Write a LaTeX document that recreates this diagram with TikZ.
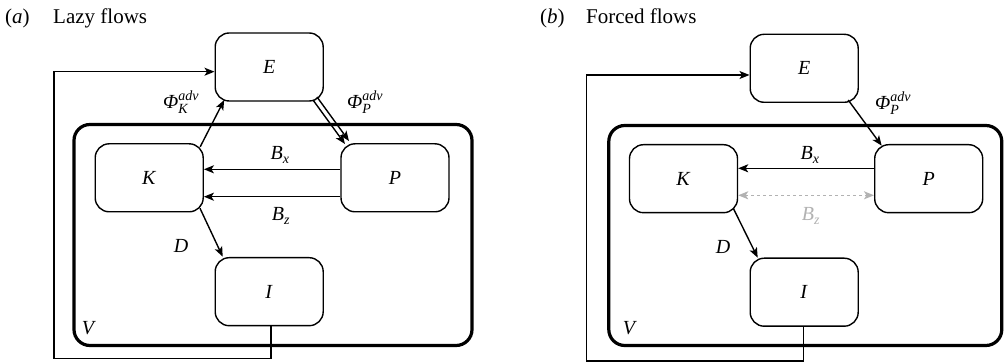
\documentclass[tikz,border=0pt]{standalone}
\usepackage{amsmath}
\usepackage{fontspec}
\setmainfont{Liberation Serif}
\usetikzlibrary{arrows.meta,calc}
\begin{document}
\begin{tikzpicture}[x=1pt,y=-1pt,
  box/.style={draw, rounded corners=14pt, line width=1.4pt, minimum width=108pt, minimum height=68pt, inner sep=0pt, font=\fontsize{20}{24}\selectfont},
  vol/.style={draw, rounded corners=16pt, line width=3.2pt, inner sep=0pt},
  tip/.style={-{Stealth[length=10pt,width=8pt,inset=2.5pt]}},
  arr/.style={line width=1.4pt, tip},
  garr/.style={line width=1.4pt, gray!60, dashed, {Stealth[length=10pt,width=8pt,inset=2.5pt]}-{Stealth[length=10pt,width=8pt,inset=2.5pt]}},
  lab/.style={font=\fontsize{20}{24}\selectfont, inner sep=0pt},
  ttl/.style={font=\fontsize{21}{24}\selectfont, inner sep=0pt, anchor=base west},
  ret/.style={line width=1.4pt}
]
\useasboundingbox (0,0) rectangle (1005,363);

% ---------- panel (a) ----------
\node[ttl] (ta) at (5,24) {(\textit{a})};
\node[ttl] (tla) at (53,24) {Lazy flows};
\node[vol, minimum width=398pt, minimum height=221pt] (Va) at (273,235) {};
\node[box] (Ea) at (269.2,67) {\textit{E}};
\node[box] (Ka) at (149.2,177.8) {\textit{K}};
\node[box] (Pa) at (395,177.8) {\textit{P}};
\node[box] (Ia) at (269.2,291.7) {\textit{I}};
\node[lab] (VLa) at (89,328) {\textit{V}};

\draw[arr] ($(Ka.center)+(51,-31)$) -- ($(Ea.center)+(-45,33)$);
\draw[arr] ($(Ea.center)+(43.8,33)$) -- ($(Pa.center)+(-50,-33.8)$);
\draw[arr] ($(Ea.center)+(47.8,30)$) -- ($(Pa.center)+(-46,-36.8)$);
\draw[arr] ($(Pa.west)+(0,-8.5)$) -- ($(Ka.east)+(0,-8.5)$);
\draw[arr] ($(Pa.west)+(0,18.9)$) -- ($(Ka.east)+(0,18.9)$);
\draw[arr] ($(Ka.center)+(50.8,30.5)$) -- ($(Ia.center)+(-46.5,-35)$);
\coordinate (ra1) at ($(Ia.south)+(1.8,0)$);
\coordinate (ra2) at (54,358.3);
\draw[ret, tip] (ra1) |- (ra2) |- ($(Ea.west)+(0,4.7)$);

\node[lab] (phka) at (181,102) {$\textit{Φ}^{\textit{adv}}_{\textit{K}}$};
\node[lab] (phpa) at (365,102) {$\textit{Φ}^{\textit{adv}}_{\textit{P}}$};
\node[lab] (bxa) at (280,155) {$\textit{B}_{\textit{x}}$};
\node[lab] (bza) at (281,216) {$\textit{B}_{\textit{z}}$};
\node[lab] (da) at (181,246) {\textit{D}};

% ---------- panel (b) ----------
\node[ttl] (tb) at (540,24) {(\textit{b})};
\node[ttl] (tlb) at (586,24) {Forced flows};
\node[vol, minimum width=393pt, minimum height=220pt] (Vb) at (805.3,235.5) {};
\node[box] (Eb) at (804.2,68.3) {\textit{E}};
\node[box] (Kb) at (683.5,178.7) {\textit{K}};
\node[box] (Pb) at (928.7,178.7) {\textit{P}};
\node[box] (Ib) at (804.2,292.2) {\textit{I}};
\node[lab] (VLb) at (630,328) {\textit{V}};

\draw[arr] ($(Eb.center)+(44,31.7)$) -- ($(Pb.center)+(-47,-33)$);
\draw[arr] ($(Pb.west)+(0,-10.4)$) -- ($(Kb.east)+(0,-10.4)$);
\draw[garr] ($(Kb.east)+(0,16.6)$) -- ($(Pb.west)+(0,16.6)$);
\draw[arr] ($(Kb.center)+(49.8,29.6)$) -- ($(Ib.center)+(-46.5,-34.5)$);
\coordinate (rb1) at ($(Ib.south)+(-1,0)$);
\coordinate (rb2) at (586.7,361);
\draw[ret, tip] (rb1) |- (rb2) |- ($(Eb.west)+(0,6.7)$);

\node[lab] (phpb) at (893,103) {$\textit{Φ}^{\textit{adv}}_{\textit{P}}$};
\node[lab] (bxb) at (810,155) {$\textit{B}_{\textit{x}}$};
\node[lab, text=gray!60] (bzb) at (811,216) {$\textit{B}_{\textit{z}}$};
\node[lab] (db) at (723,247) {\textit{D}};
\end{tikzpicture}
\end{document}
